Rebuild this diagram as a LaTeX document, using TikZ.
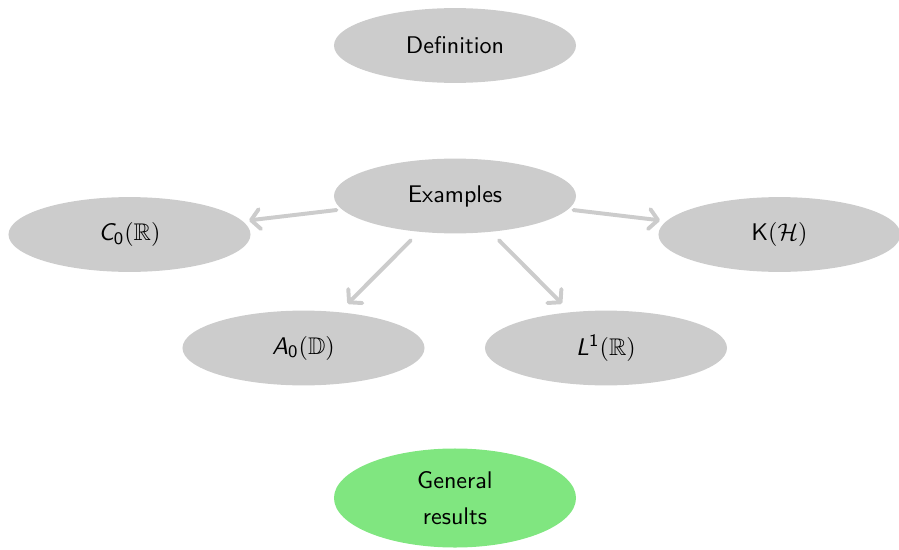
\documentclass[tikz,border=0pt]{standalone}
\usepackage{amssymb}
\usetikzlibrary{shapes.geometric,arrows.meta}
% sans-serif letters for the formulas inside the bubbles
\DeclareMathAlphabet{\mathsfsl}{OT1}{cmss}{m}{sl}
\definecolor{bubblegray}{RGB}{204,204,204}
\definecolor{bubblegreen}{RGB}{128,230,128}
\tikzset{
  bubble/.style={ellipse, fill=bubblegray, draw=none, inner sep=0pt, outer sep=0pt,
    minimum width=110pt, minimum height=34pt,
    font=\sffamily\fontsize{10.95}{16.4}\selectfont},
  goalbubble/.style={bubble, fill=bubblegreen, minimum height=45pt, align=center},
  link/.style={draw=bubblegray, line width=1.8pt, line cap=round,
    -{Straight Barb[length=4pt, width=9pt, round]}},
}
\begin{document}
\begin{tikzpicture}[x={(0.4545pt,0pt)}, y={(0pt,-0.4545pt)}]
  \useasboundingbox (0,0) rectangle (899,550);
  \node[bubble] (def) at (455,45.5) {Definition};
  \node[bubble] (ex) at (455,196) {Examples};
  \node[bubble] (c0) at (129.5,234.5) {$\mathsfsl{C}_{\mathsf{0}}(\mathbb{R})$};
  \node[bubble] (kh) at (779.5,234.5) {$\mathsf{K}(\mathcal{H})$};
  \node[bubble] (a0) at (303.5,348) {$\mathsfsl{A}_{\mathsf{0}}(\mathbb{D})$};
  \node[bubble] (l1) at (606,348) {$\mathsfsl{L}^{\mathsf{1}}(\mathbb{R})$};
  \node[goalbubble] (gen) at (455,498) {\raisebox{-2.2pt}{General}\\\raisebox{-2.2pt}{results}};
  \draw[link, shorten <=2.5pt, shorten >=3pt] (ex) -- (c0);
  \draw[link, shorten <=2.5pt, shorten >=3pt] (ex) -- (kh);
  \draw[link, shorten <=5.5pt, shorten >=5.5pt] (ex) -- (a0);
  \draw[link, shorten <=5.5pt, shorten >=5.5pt] (ex) -- (l1);
\end{tikzpicture}
\end{document}
